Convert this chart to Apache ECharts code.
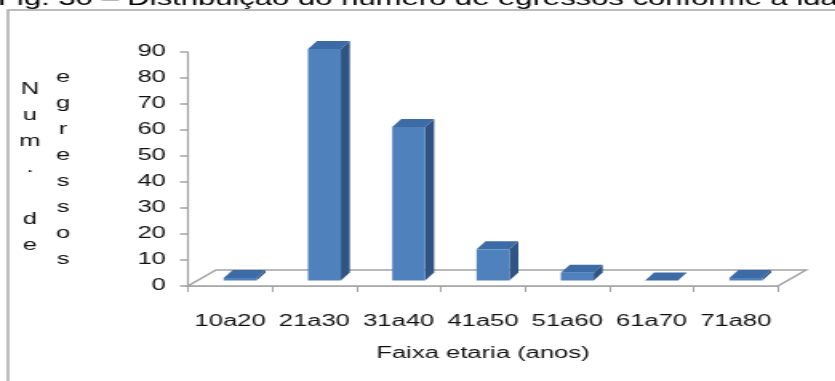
<!DOCTYPE html>
<html>
<head>
<meta charset="utf-8">
<script src="https://cdn.jsdelivr.net/npm/echarts@6/dist/echarts.min.js"></script>
<style>
  html, body { margin: 0; padding: 0; background: #fff; overflow: hidden; width: 835px; height: 381px; }
  /* the figure is laid out narrow and widened horizontally, like the original export */
  #chart { width: 522px; height: 381px; transform: scaleX(1.6); transform-origin: 0 0; }
</style>
</head>
<body>
<div id="chart"></div>
<script>
// ---- data ----
const ageGroups = ['10a20', '21a30', '31a40', '41a50', '51a60', '61a70', '71a80'];
const graduates = [1, 89, 59, 12, 3, 0, 1];
const valueMin = 0;
const valueMax = 90;
const valueStep = 10;
const titleText = 'Fig. 30 – Distribuição do número de egressos conforme a idade';
const yNameColumnA = ['N', 'u', 'm', '.', ' ', 'd', 'e'];
const yNameColumnB = ['e', 'g', 'r', 'e', 's', 's', 'o', 's'];
const xAxisName = 'Faixa etaria (anos)';

// ---- layout helpers ----
const SX = 1.6;                 // horizontal widening of the whole figure
const hx = v => v / SX;         // convert a widened x distance to layout units
const FONT = '"Liberation Sans", Arial, sans-serif';
const AXIS_GRAY = '#a3a3a3';

// 3D look: floor depth, bar placement inside the floor, bar depth
const FLOOR_DX = hx(28), FLOOR_DY = -16;
const BAR_OFF_X = hx(10), BAR_OFF_Y = -5.5;
const BAR_DX = hx(9), BAR_DY = -8;
const BAR_WIDTH_RATIO = 0.39;

const COLOR_FRONT = '#4f81bd';
const COLOR_TOP = '#3d6ba6';
const COLOR_SIDE = '#2f5382';

const chart = echarts.init(document.getElementById('chart'), null, { renderer: 'canvas' });

function renderFloor(params, api) {
  const n = ageGroups.length;
  const band = api.size([1, 0])[0];
  const first = api.coord([0, 0]);
  const last = api.coord([n - 1, 0]);
  const left = first[0] - band / 2;
  const right = last[0] + band / 2;
  const y = first[1];
  return {
    type: 'polygon',
    shape: { points: [[left, y], [right, y], [right + FLOOR_DX, y + FLOOR_DY], [left + FLOOR_DX, y + FLOOR_DY]] },
    style: { fill: '#ffffff', stroke: AXIS_GRAY, lineWidth: 1.5 },
    silent: true
  };
}

function renderBar(params, api) {
  const idx = api.value(0);
  const val = api.value(1);
  const base = api.coord([idx, 0]);
  const top = api.coord([idx, val]);
  const band = api.size([1, 0])[0];
  const w = band * BAR_WIDTH_RATIO;
  const cx = base[0] + BAR_OFF_X;
  const x0 = cx - w / 2, x1 = cx + w / 2;
  const y0 = base[1] + BAR_OFF_Y;
  const y1 = top[1] + BAR_OFF_Y;
  return {
    type: 'group',
    children: [
      {
        type: 'polygon',
        shape: { points: [[x1, y0], [x1 + BAR_DX, y0 + BAR_DY], [x1 + BAR_DX, y1 + BAR_DY], [x1, y1]] },
        style: { fill: COLOR_SIDE }
      },
      {
        type: 'polygon',
        shape: { points: [[x0, y1], [x1, y1], [x1 + BAR_DX, y1 + BAR_DY], [x0 + BAR_DX, y1 + BAR_DY]] },
        style: { fill: COLOR_TOP }
      },
      {
        type: 'rect',
        shape: { x: x0, y: y1, width: w, height: Math.max(y0 - y1, 0) },
        style: { fill: COLOR_FRONT }
      }
    ]
  };
}

const option = {
  animation: false,
  backgroundColor: '#ffffff',
  grid: { left: hx(188), width: hx(590), top: 52, bottom: 95, containLabel: false },
  xAxis: {
    type: 'category',
    data: ageGroups,
    boundaryGap: true,
    name: xAxisName,
    nameLocation: 'middle',
    nameGap: 60,
    nameTextStyle: { fontFamily: FONT, fontSize: 16, color: '#111' },
    axisLine: { show: true, lineStyle: { color: AXIS_GRAY, width: 1.5 } },
    axisTick: { show: true, alignWithLabel: false, length: 6, lineStyle: { color: AXIS_GRAY, width: 1 } },
    axisLabel: { fontFamily: FONT, fontSize: 16, color: '#111', margin: 28, interval: 0, hideOverlap: false },
    splitLine: { show: false }
  },
  yAxis: {
    type: 'value',
    min: valueMin,
    max: valueMax,
    interval: valueStep,
    axisLine: { show: true, lineStyle: { color: AXIS_GRAY, width: 1.2 } },
    axisTick: { show: true, length: hx(8), lineStyle: { color: AXIS_GRAY, width: 1.5 } },
    axisLabel: { fontFamily: FONT, fontSize: 16, color: '#111', margin: hx(22) },
    splitLine: { show: false }
  },
  graphic: [
    {
      type: 'rect',
      shape: { x: hx(8), y: 10, width: 900, height: 500 },
      style: { fill: 'none', stroke: '#a8a8a8', lineWidth: 1.5 },
      silent: true,
      z: -10
    },
    {
      type: 'text',
      x: hx(-2),
      y: 9,
      style: { text: titleText, fontFamily: FONT, fontSize: 19.4, fill: '#000', align: 'left', verticalAlign: 'bottom' }
    },
    {
      type: 'text',
      x: hx(30),
      y: 168,
      style: { text: yNameColumnA.join('\n'), fontFamily: FONT, fontSize: 16, lineHeight: 26, fill: '#111', align: 'center', verticalAlign: 'middle' }
    },
    {
      type: 'text',
      x: hx(63),
      y: 169,
      style: { text: yNameColumnB.join('\n'), fontFamily: FONT, fontSize: 16, lineHeight: 26, fill: '#111', align: 'center', verticalAlign: 'middle' }
    }
  ],
  series: [
    {
      name: 'piso',
      type: 'custom',
      renderItem: renderFloor,
      data: [[0, 0]],
      encode: { x: 0, y: 1 },
      z: 1,
      silent: true
    },
    {
      name: 'Egressos',
      type: 'custom',
      renderItem: renderBar,
      data: graduates.map((v, i) => [i, v]),
      encode: { x: 0, y: 1 },
      z: 3
    }
  ]
};

chart.setOption(option);
</script>
</body>
</html>
